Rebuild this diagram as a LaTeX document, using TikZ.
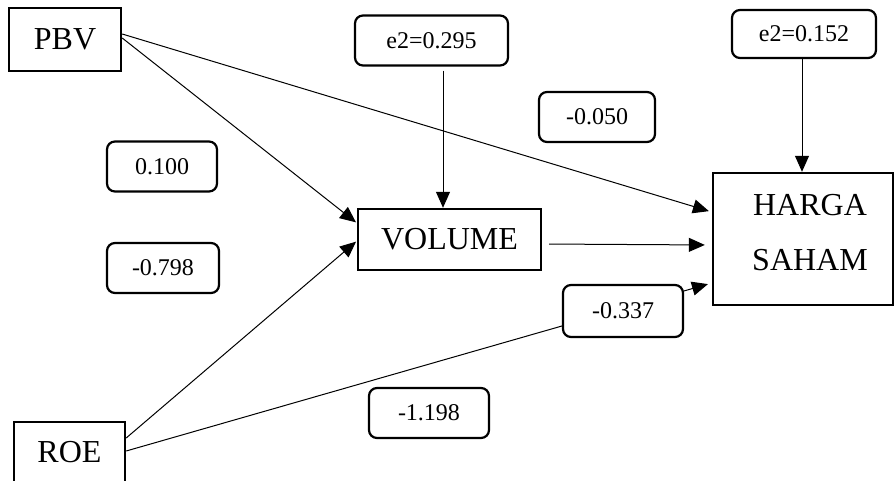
\documentclass[tikz,border=0pt]{standalone}
\usepackage{fontspec}
\setmainfont{Liberation Serif}
\usetikzlibrary{arrows.meta}
\begin{document}
\begin{tikzpicture}[x=0.5pt,y=-0.5pt,
        var/.style={draw,line width=1.2pt,inner sep=0pt,font=\fontsize{16}{27.5}\selectfont},
        coef/.style={draw,line width=1.1pt,rounded corners=4pt,fill=white,inner sep=0pt,minimum height=25pt,font=\fontsize{12}{14}\selectfont},
        arr/.style={-{Triangle[length=8pt,width=7pt]},line width=0.5pt}]
        \useasboundingbox (0,0) rectangle (895,481);
        % variables
        \node[var,minimum width=56pt,minimum height=31.5pt] (pbv) at (65,39.5) {PBV};
        \node[var,minimum width=55.5pt,minimum height=30.5pt] (roe) at (69.5,452.5) {ROE};
        \node[var,minimum width=91.5pt,minimum height=30.5pt] (volume) at (449.5,239.5) {VOLUME};
        \node[var,minimum width=90pt,minimum height=66pt,align=center,text depth=6.5pt] (harga) at (803,239) {\hspace{7pt}HARGA\\\hspace{7pt}SAHAM};
        % error terms
        \node[coef,minimum width=76.5pt] (evol) at (431.5,40.5) {e2=0.295};
        \node[coef,minimum width=72pt,minimum height=24pt] (eharga) at (804,34) {e2=0.152};
        % paths
        \draw[arr,shorten >=1.5pt] ([yshift=2.75pt]pbv.east) -- ([yshift=13.5pt]harga.west);
        \draw[arr,shorten >=0.5pt] ([yshift=0.75pt]pbv.east) -- ([yshift=8.25pt]volume.west);
        \draw[arr,shorten >=0.5pt] ([yshift=7.25pt]roe.east) -- ([yshift=-0.75pt]volume.west);
        \draw[arr,shorten >=2pt] ([yshift=0.75pt]roe.east) -- ([yshift=-22pt]harga.west);
        \draw[arr,shorten <=3.5pt,shorten >=3.5pt] ([yshift=-2.25pt]volume.east) -- ([yshift=-3pt]harga.west);
        \draw[arr,shorten <=2pt] ([xshift=5.75pt]evol.south) -- ([xshift=-3.25pt]volume.north);
        \draw[arr] ([xshift=-1pt]eharga.south) -- ([xshift=-0.5pt]harga.north);
        % coefficients
        \node[coef,minimum width=55pt] (c1) at (162,166.5) {0.100};
        \node[coef,minimum width=56pt] (c2) at (163,268) {-0.798};
        \node[coef,minimum width=58pt] (c3) at (597,117) {-0.050};
        \node[coef,minimum width=60pt,minimum height=26pt] (c4) at (623,311) {-0.337};
        \node[coef,minimum width=60pt] (c5) at (429,413) {-1.198};
\end{tikzpicture}
\end{document}
